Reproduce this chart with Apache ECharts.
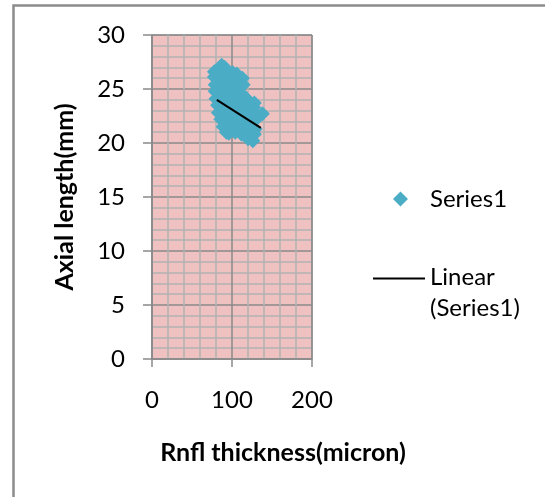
<!DOCTYPE html>
<html>
<head>
<meta charset="utf-8">
<script src="https://cdn.jsdelivr.net/npm/echarts@6/dist/echarts.min.js"></script>
<style>
html,body{margin:0;padding:0;background:#ffffff;}
#chart{width:545px;height:497px;}
</style>
</head>
<body>
<div id="chart"></div>
<script>
// ---- data ----
const rnflThickness = [
  87, 91,
  78, 86, 94, 101, 106,
  78, 86, 94, 102, 110, 113,
  79, 88, 97, 106, 114,
  79, 88, 97, 105, 111,
  80, 89, 98, 107, 117,
  82, 91, 100, 109, 118, 127, 128,
  83, 92, 101, 110, 119, 128, 138,
  86, 95, 104, 113, 122, 130,
  89, 98, 107, 116, 124, 129,
  93, 96, 104, 112, 120, 128,
  120, 126
];
const axialLength = [
  27.2, 27.0,
  26.6, 26.8, 26.7, 26.5, 26.4,
  26.1, 26.0, 26.2, 26.1, 25.9, 26.0,
  25.4, 25.5, 25.3, 25.4, 25.4,
  24.8, 24.7, 24.9, 24.8, 24.6,
  24.1, 24.2, 24.0, 24.1, 24.2,
  23.5, 23.4, 23.6, 23.5, 23.4, 23.3, 23.7,
  22.8, 22.9, 22.7, 22.8, 22.9, 22.8, 22.7,
  22.2, 22.1, 22.3, 22.2, 22.1, 22.2,
  21.5, 21.6, 21.4, 21.5, 21.6, 21.3,
  21.0, 20.9, 21.0, 20.8, 20.9, 20.8,
  20.4, 20.2
];
const trendX = [81, 136];
const trendY = [24.0, 21.4];
const xTickValues = [0, 100, 200];
const yTickValues = [0, 5, 10, 15, 20, 25, 30];
const seriesName = 'Series1';
const trendName = 'Linear (Series1)';
const xTitle = 'Rnfl thickness(micron)';
const yTitle = 'Axial length(mm)';

// ---- build ----
const scatterData = rnflThickness.map((x, i) => [x, axialLength[i]]);
const trendData = trendX.map((x, i) => [x, trendY[i]]);

const FONT = 'Lato';
const FS = 24;
const FSB = 25;
const axisGray = '#8a8a8a';
const minorGray = '#b2b2b2';

const chart = echarts.init(document.getElementById('chart'), null, {renderer: 'canvas'});
chart.setOption({
  animation: false,
  backgroundColor: '#ffffff',
  textStyle: {fontFamily: FONT},
  grid: {
    left: 152, top: 35, width: 160, height: 324,
    show: true, backgroundColor: '#efc1c1', borderColor: axisGray, borderWidth: 1
  },
  xAxis: {
    type: 'value',
    min: xTickValues[0], max: xTickValues[xTickValues.length - 1],
    interval: xTickValues[1] - xTickValues[0],
    axisLine: {show: true, lineStyle: {color: axisGray, width: 1.5}},
    axisTick: {show: true, inside: false, length: 8, lineStyle: {color: axisGray, width: 1.5}},
    axisLabel: {margin: 29, color: '#000', fontSize: FS, fontFamily: FONT},
    splitLine: {show: true, lineStyle: {color: axisGray, width: 1.5}},
    minorTick: {show: false, splitNumber: 5},
    minorSplitLine: {show: true, lineStyle: {color: minorGray, width: 1.5}}
  },
  yAxis: {
    type: 'value',
    min: yTickValues[0], max: yTickValues[yTickValues.length - 1],
    interval: yTickValues[1] - yTickValues[0],
    name: yTitle, nameLocation: 'middle', nameGap: 75, nameRotate: 90,
    nameTextStyle: {fontFamily: FONT, fontSize: FSB, fontWeight: 'bold', color: '#000'},
    axisLine: {show: true, lineStyle: {color: axisGray, width: 1.5}},
    axisTick: {show: true, inside: false, length: 9, lineStyle: {color: axisGray, width: 1.5}},
    axisLabel: {margin: 27, color: '#000', fontSize: FS, fontFamily: FONT},
    splitLine: {show: true, lineStyle: {color: axisGray, width: 1.5}},
    minorTick: {show: false, splitNumber: 5},
    minorSplitLine: {show: true, lineStyle: {color: minorGray, width: 1.5}}
  },
  legend: [
    {
      data: [{name: seriesName, icon: 'path://M7.5,0L15,7.5L7.5,15L0,7.5Z M32,7.5L32.01,7.5L32,7.51Z'}],
      left: 393, top: 187, padding: 0,
      itemWidth: 32, itemHeight: 15, itemGap: 0,
      textStyle: {fontFamily: FONT, fontSize: FS, color: '#000'}
    },
    {
      data: [{name: trendName, icon: 'path://M0,0L52,0L52,2L0,2Z M0,31L0.01,31L0,31.01Z'}],
      left: 373, top: 262, padding: 0,
      itemWidth: 52, itemHeight: 31, itemGap: 0,
      formatter: () => 'Linear\n(Series1)',
      textStyle: {fontFamily: FONT, fontSize: FS, color: '#000', lineHeight: 31}
    }
  ],
  graphic: [
    {
      type: 'polyline', silent: true,
      shape: {points: [[13.5, 497], [13.5, 5.5], [545, 5.5]]},
      style: {stroke: '#8c8c8c', lineWidth: 2.5, fill: null}
    },
    {
      type: 'text', silent: true,
      x: 283, y: 453,
      style: {text: xTitle, font: 'bold ' + FSB + 'px ' + FONT, fill: '#000', align: 'center', verticalAlign: 'middle'}
    }
  ],
  series: [
    {
      name: seriesName, type: 'scatter', data: scatterData,
      symbol: 'diamond', symbolSize: 15,
      itemStyle: {color: '#4bacc6', opacity: 1}
    },
    {
      name: trendName, type: 'line', data: trendData,
      showSymbol: false, symbol: 'none',
      lineStyle: {color: '#000', width: 2},
      itemStyle: {color: '#000'}
    }
  ]
});
</script>
</body>
</html>
